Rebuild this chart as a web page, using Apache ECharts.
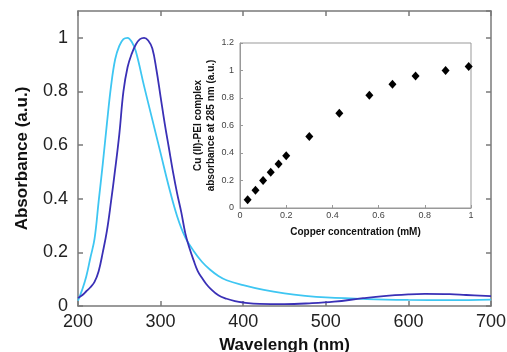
<!DOCTYPE html>
<html>
<head>
<meta charset="utf-8">
<script src="https://cdn.jsdelivr.net/npm/echarts@6/dist/echarts.min.js"></script>
<style>html,body{margin:0;padding:0;background:#fff}#c{width:507px;height:352px}</style>
</head>
<body>
<div id="c"></div>
<script>
// Main spectra: [wavelength nm, absorbance a.u.]
const cyanSpectrum = [[200,0.02],[205,0.06],[210,0.11],[215,0.18],[220,0.25],[225,0.39],[230,0.53],[235,0.68],[240,0.82],[245,0.92],[250,0.97],[255,0.995],[260,1.0],[265,0.985],[270,0.95],[280,0.82],[290,0.695],[300,0.57],[310,0.445],[320,0.335],[330,0.255],[340,0.205],[350,0.165],[360,0.135],[370,0.112],[380,0.096],[400,0.078],[425,0.06],[450,0.047],[475,0.038],[500,0.032],[550,0.026],[600,0.023],[650,0.022],[700,0.024]];
const blueSpectrum = [[200,0.03],[205,0.04],[210,0.055],[215,0.07],[220,0.09],[225,0.13],[230,0.2],[235,0.28],[240,0.39],[245,0.51],[250,0.64],[255,0.8],[260,0.89],[265,0.94],[270,0.975],[275,0.995],[280,1.0],[285,0.99],[290,0.96],[295,0.88],[300,0.78],[305,0.68],[310,0.59],[315,0.5],[320,0.42],[325,0.35],[330,0.27],[335,0.215],[340,0.17],[345,0.13],[350,0.105],[355,0.083],[360,0.066],[370,0.04],[380,0.027],[390,0.018],[400,0.013],[420,0.008],[450,0.007],[480,0.01],[510,0.016],[545,0.029],[570,0.037],[600,0.043],[620,0.045],[650,0.044],[670,0.041],[700,0.037]];
// Inset: copper concentration (mM) vs absorbance at 285 nm
const copperConc = [0.033,0.067,0.1,0.133,0.167,0.2,0.3,0.43,0.56,0.66,0.76,0.89,0.99];
const insetAbs = [0.06,0.13,0.2,0.26,0.32,0.38,0.52,0.69,0.82,0.9,0.96,1.0,1.03];

const axisGrey = '#7a7a7a';
const chart = echarts.init(document.getElementById('c'));
const mainTick = {show:true, inside:true, length:5, lineStyle:{color:axisGrey, width:1.5}};
chart.setOption({
  animation:false,
  grid:[
    {left:78, right:16, top:11, bottom:46, containLabel:false, outerBoundsMode:'none'},
    {left:240, top:43, width:231, height:165, containLabel:false, outerBoundsMode:'none', show:true, borderColor:'#999', borderWidth:1, backgroundColor:'transparent'}
  ],
  xAxis:[
    {gridIndex:0, type:'value', min:200, max:700, interval:100, position:'bottom',
     axisLine:{show:true, onZero:false, lineStyle:{color:axisGrey, width:1.5}}, axisTick:mainTick, splitLine:{show:false},
     axisLabel:{color:'#222', fontSize:18, fontFamily:'Liberation Sans', margin:7},
     name:'Wavelengh (nm)', nameLocation:'middle', nameGap:31,
     nameTextStyle:{color:'#111', fontSize:17, fontWeight:'bold', fontFamily:'Liberation Sans'}},
    {gridIndex:0, type:'value', min:200, max:700, interval:100, position:'top',
     axisLine:{show:true, onZero:false, lineStyle:{color:axisGrey, width:1.5}}, axisTick:mainTick, splitLine:{show:false}, axisLabel:{show:false}},
    {gridIndex:1, type:'value', min:0, max:1, interval:0.2,
     axisLine:{show:true, onZero:false, lineStyle:{color:'#999', width:1}}, axisTick:{show:true, inside:true, length:3, lineStyle:{color:'#999'}}, splitLine:{show:false},
     axisLabel:{color:'#444', fontSize:9, fontFamily:'Liberation Sans', margin:3},
     name:'Copper concentration (mM)', nameLocation:'middle', nameGap:19,
     nameTextStyle:{color:'#111', fontSize:10, fontWeight:'bold', fontFamily:'Liberation Sans'}}
  ],
  yAxis:[
    {gridIndex:0, type:'value', min:0, max:1.1, interval:0.2, position:'left',
     axisLine:{show:true, onZero:false, lineStyle:{color:axisGrey, width:1.5}}, axisTick:mainTick, splitLine:{show:false},
     axisLabel:{color:'#222', fontSize:18, fontFamily:'Liberation Sans', margin:10, showMaxLabel:false},
     name:'Absorbance (a.u.)', nameLocation:'middle', nameGap:47,
     nameTextStyle:{color:'#111', fontSize:17, fontWeight:'bold', fontFamily:'Liberation Sans'}},
    {gridIndex:0, type:'value', min:0, max:1.1, interval:0.2, position:'right',
     axisLine:{show:true, onZero:false, lineStyle:{color:axisGrey, width:1.5}}, axisTick:mainTick, splitLine:{show:false}, axisLabel:{show:false}},
    {gridIndex:1, type:'value', min:0, max:1.2, interval:0.2,
     axisLine:{show:true, onZero:false, lineStyle:{color:'#999', width:1}}, axisTick:{show:true, inside:true, length:3, lineStyle:{color:'#999'}}, splitLine:{show:false},
     axisLabel:{color:'#444', fontSize:9, fontFamily:'Liberation Sans', margin:6},
     name:'Cu (II)-PEI complex\nabsorbance at 285 nm (a.u.)', nameLocation:'middle', nameGap:19,
     nameTextStyle:{color:'#111', fontSize:10, fontWeight:'bold', fontFamily:'Liberation Sans', lineHeight:13}}
  ],
  series:[
    {type:'line', xAxisIndex:0, yAxisIndex:0, data:cyanSpectrum, smooth:0.4, showSymbol:false, lineStyle:{color:'#3ec6f2', width:1.8}},
    {type:'line', xAxisIndex:0, yAxisIndex:0, data:blueSpectrum, smooth:0.4, showSymbol:false, lineStyle:{color:'#3a30b6', width:1.8}},
    {type:'scatter', xAxisIndex:2, yAxisIndex:2, data:copperConc.map((c,i)=>[c, insetAbs[i]]), symbol:'diamond', symbolSize:[8,9], itemStyle:{color:'#000', opacity:1}}
  ]
});
</script>
</body>
</html>
